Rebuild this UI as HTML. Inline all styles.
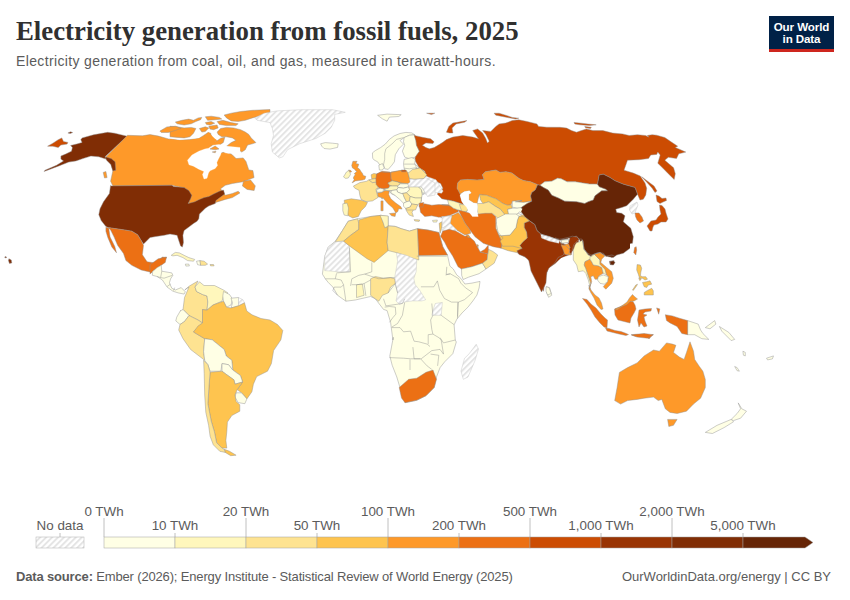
<!DOCTYPE html>
<html><head><meta charset="utf-8">
<style>
html,body{margin:0;padding:0;background:#fff;}
body{width:850px;height:600px;position:relative;overflow:hidden;font-family:"Liberation Sans",sans-serif;}
.t{position:absolute;left:16px;top:15.2px;font-family:"Liberation Serif",serif;font-weight:bold;font-size:26.8px;line-height:32px;color:#303030;white-space:nowrap;letter-spacing:0px;}
.s{position:absolute;left:16px;top:53.3px;font-size:14px;line-height:17px;color:#5b5b5b;white-space:nowrap;letter-spacing:0.36px;}
.logo{position:absolute;left:769px;top:16px;width:65px;height:36px;background:#002147;}
.logo .r{position:absolute;left:0;bottom:0;width:65px;height:3px;background:#ce261e;}
.logo .tx{position:absolute;left:0;top:4.6px;width:65px;text-align:center;color:#fff;font-size:11.6px;line-height:12.2px;font-weight:bold;letter-spacing:-0.1px;}
.f{position:absolute;left:16px;top:569px;font-size:13px;color:#5b5b5b;white-space:nowrap;letter-spacing:-0.16px;}
.f b{color:#5b5b5b;}
.fr{position:absolute;right:19px;top:569px;font-size:13px;color:#5b5b5b;white-space:nowrap;}
svg{position:absolute;left:0;top:0;}
svg text{font-family:"Liberation Sans",sans-serif;font-size:13.4px;fill:#5b5b5b;}
</style></head><body>
<div class="t">Electricity generation from fossil fuels, 2025</div>
<div class="s">Electricity generation from coal, oil, and gas, measured in terawatt-hours.</div>
<div class="logo"><div class="tx">Our World<br>in Data</div><div class="r"></div></div>
<svg width="850" height="600" viewBox="0 0 850 600">
<defs><pattern id="hatch" patternUnits="userSpaceOnUse" width="4.2" height="4.2" patternTransform="rotate(45)"><rect width="4.2" height="4.2" fill="#fff"/><line x1="1" y1="0" x2="1" y2="4.2" stroke="#e2e2e2" stroke-width="1.8"/></pattern></defs>
<g stroke="#8f8f8f" stroke-width="0.45" stroke-linejoin="round">
<path d="M82.1,137.9L93.5,134.8L107.6,132.3L114.7,133.2L127.1,136.2L105.0,156.8L110.3,159.6L113.3,163.5L112.9,169.7L110.8,161.8L105.9,159.1L98.8,156.8L90.9,156.1L82.9,158.6L75.9,160.9L68.8,162.1L58.2,166.2L44.1,171.5L45.0,170.2L56.5,165.3L63.5,160.9L60.9,159.1L60.9,156.1L66.2,153.8L71.5,151.2L72.4,147.6L70.6,145.5L77.6,143.8L82.1,142.4L80.8,139.7Z" fill="#802d05"/>
<path d="M67.9,133.0L70.6,131.8L72.7,132.6L70.2,133.5Z" fill="#802d05"/>
<path d="M47.6,146.2L52.9,143.2L58.2,139.7L61.8,137.9L63.5,141.5L67.9,142.4L67.1,144.1L60.9,145.0L58.2,147.6L52.9,146.2Z" fill="#cc4c02"/>
<path d="M127.5,135.3L142.4,135.8L150.0,134.6L158.5,136.1L168.4,138.9L179.6,140.3L189.5,139.6L198.7,138.6L203.6,135.4L207.9,132.5L210.7,133.2L212.1,138.9L214.2,141.7L217.8,140.3L220.6,138.2L224.8,137.2L223.4,142.4L219.2,145.2L213.5,146.6L210.7,148.1L220.6,153.0L226.2,151.6L231.9,154.4L236.1,158.6L243.2,157.9L246.0,161.5L248.8,169.9L252.9,170.6L254.1,177.6L242.9,181.8L232.4,183.5L225.3,185.3L220.6,188.8L225.3,195.3L232.4,193.5L238.2,191.2L240.0,192.9L232.4,197.6L225.3,199.4L215.9,202.4L204.1,198.8L194.7,202.9L188.2,204.1L191.2,195.3L185.3,188.2L171.8,185.3L112.9,185.9L110.6,181.2L112.9,170.6L110.6,162.4L104.9,157.9Z" fill="#fe9929"/>
<path d="M105.0,156.8L111.2,158.6L115.1,161.8L115.8,170.2L112.9,170.9L110.8,164.4L106.8,160.4Z" fill="#802d05"/>
<path d="M103.2,172.4L105.9,171.5L107.1,177.6L104.5,178.0Z" fill="#fe9929"/>
<path d="M243.5,181.2L250.6,180.0L255.3,185.9L254.1,190.6L247.1,189.4L242.4,185.9Z" fill="#fe9929"/>
<path d="M209.3,145.9L216.4,145.2L219.9,148.8L214.9,150.2L210.7,149.5Z" fill="#fe9929"/>
<path d="M170.0,139.1L179.4,140.3L188.8,140.3L198.2,138.5L205.3,136.2L208.8,132.1L210.6,134.4L214.7,138.5L217.1,140.3L212.4,143.8L210.0,146.2L214.7,147.4L219.4,150.9L221.8,155.0L170.0,155.0Z" fill="#fe9929" stroke="none"/>
<path d="M224.1,115.0L231.2,113.2L240.6,111.5L252.4,110.3L270.0,109.5L270.0,112.6L261.8,115.6L252.4,117.9L245.3,120.3L238.2,121.5L231.2,120.9L226.5,117.9Z" fill="#fe9929"/>
<path d="M217.1,121.5L222.9,120.3L231.2,122.6L238.2,123.8L235.9,125.6L226.5,125.6L219.4,124.4Z" fill="#fe9929"/>
<path d="M217.1,132.1L220.6,128.5L226.5,127.4L233.5,127.9L240.6,129.7L245.3,132.1L248.8,134.4L251.2,137.9L255.9,142.6L252.4,143.8L247.6,145.0L245.3,149.7L241.8,152.1L238.2,149.7L233.5,148.5L226.5,146.2L231.2,142.6L235.9,140.3L232.4,137.9L226.5,136.8L221.8,136.8L218.2,134.4Z" fill="#fe9929"/>
<path d="M199.4,128.5L205.3,126.8L208.8,127.9L205.3,131.5L201.8,132.1Z" fill="#fe9929"/>
<path d="M208.8,126.2L217.1,125.0L218.2,127.9L213.5,129.7L210.0,129.1Z" fill="#fe9929"/>
<path d="M170.0,126.2L177.1,126.8L184.1,127.9L191.2,127.4L195.9,128.5L193.5,133.2L190.0,136.8L184.1,137.9L177.1,137.4L170.0,136.8Z" fill="#fe9929"/>
<path d="M175.3,122.1L181.8,120.3L188.8,119.1L193.5,120.3L198.2,117.9L201.8,117.4L200.6,119.7L195.9,121.5L191.2,123.8L184.1,125.0L177.1,123.8Z" fill="#fe9929"/>
<path d="M205.3,116.8L211.2,116.2L219.4,117.4L221.8,119.1L215.9,119.7L207.6,120.3Z" fill="#fe9929"/>
<path d="M205.3,122.6L211.2,121.5L214.7,123.2L210.0,125.0L206.5,124.4Z" fill="#fe9929"/>
<path d="M159.9,131.1L166.9,126.9L175.4,126.2L181.1,128.3L175.4,130.4L168.4,132.5L161.3,132.5Z" fill="#fe9929"/>
<path d="M187.5,160.2L192.0,155.0L198.8,151.2L204.8,149.0L208.5,148.2L213.0,145.2L219.0,144.5L225.0,146.0L232.5,146.8L240.0,147.5L240.0,152.0L232.5,152.8L228.8,153.5L225.0,152.8L222.0,150.5L220.5,155.0L218.2,159.5L216.8,162.5L217.5,165.5L215.2,168.5L210.0,170.8L208.5,173.0L207.0,178.2L204.0,179.0L202.5,174.5L204.0,171.5L198.8,169.2L193.5,166.2L189.0,164.8Z" fill="#fff" stroke="#fff" stroke-width="0.3"/>
<path d="M210.0,149.0L215.2,146.0L219.0,149.0L215.2,149.8Z" fill="#fe9929"/>
<path d="M212.2,152.0L216.0,151.2L215.2,152.8Z" fill="#fe9929"/>
<path d="M110.6,185.9L171.8,185.3L173.5,186.5L184.1,187.6L188.8,190.6L191.8,195.3L190.6,198.8L188.2,203.5L194.7,201.8L199.4,199.4L204.1,197.6L208.8,196.5L213.5,194.1L219.4,191.2L223.5,190.0L224.7,194.1L220.6,197.1L215.9,200.6L215.3,203.5L208.8,205.9L205.3,208.2L201.8,211.8L199.4,214.1L198.8,218.8L197.1,221.2L193.5,223.5L188.8,227.1L184.1,230.6L182.9,235.3L183.5,242.4L182.4,247.1L180.6,245.9L178.2,238.8L177.1,235.3L170.0,234.1L164.1,235.3L155.9,236.5L150.0,237.6L143.5,244.1L141.2,240.6L137.6,234.7L131.8,231.2L124.7,230.0L108.2,227.6L105.9,226.5L101.2,220.6L98.8,214.7L100.0,208.8L103.5,201.8L109.4,193.5L110.6,185.3Z" fill="#802d05"/>
<path d="M108.2,227.6L124.7,230.0L131.8,231.2L137.6,234.7L141.2,240.6L143.5,245.3L142.4,254.7L147.1,261.8L155.3,262.9L162.4,257.1L166.6,257.3L162.4,264.1L152.9,267.6L151.8,272.4L141.2,270.0L131.8,265.3L125.9,260.6L123.5,253.5L117.6,245.3L114.1,237.1L110.6,230.0Z" fill="#ec7014"/>
<path d="M105.9,227.2L108.7,228.1L110.1,237.1L114.8,246.5L116.5,252.8L111.8,246.9L107.8,237.5L105.9,231.2Z" fill="#ec7014"/>
<path d="M8.9,258.7L11.3,260.1L11.8,262.9L9.4,263.4L8.5,260.6Z" fill="#802d05"/>
<path d="M5.2,256.4L6.6,257.1L6.1,258.0L4.7,257.5Z" fill="#802d05"/>
<path d="M150.0,264.7L158.2,258.8L166.5,257.1L165.3,262.4L161.2,265.3L158.2,268.2L153.5,270.6L150.0,274.1Z" fill="#ec7014"/>
<path d="M152.4,271.8L157.1,267.6L161.2,265.3L161.8,271.2L171.8,272.9L172.9,275.3L170.6,278.8L169.4,282.9L171.8,288.2L175.3,290.0L181.2,287.6L185.3,291.8L184.1,294.1L178.2,292.9L172.9,291.2L167.1,287.1L162.4,280.0L157.1,276.5L152.4,275.3Z" fill="#ffffe5"/>
<path d="M171.2,255.3L175.3,252.4L179.4,252.9L184.1,255.3L188.8,257.6L194.7,259.4L193.5,261.2L187.6,260.6L182.9,257.6L177.1,255.3L172.9,255.9Z" fill="#fff7bc"/>
<path d="M196.5,261.2L200.0,260.6L200.6,265.3L197.6,264.7Z" fill="#ffffe5"/>
<path d="M200.0,260.6L204.1,261.2L207.6,264.1L205.3,265.3L200.6,265.3Z" fill="#fee391"/>
<path d="M210.0,264.5L213.5,264.5L214.1,265.9L210.6,265.9Z" fill="#fee391"/>
<path d="M185.3,264.1L188.8,264.1L189.4,265.9L185.9,266.1Z" fill="#ffffe5"/>
<path d="M198.0,281.0L195.0,287.0L196.5,291.5L202.5,294.5L207.0,296.0L207.8,302.0L207.0,310.2L202.5,309.5L202.5,323.0L198.0,320.0L189.0,315.5L183.0,309.5L184.5,297.5L189.0,287.0L184.8,289.9L189.3,286.1L196.5,281.8Z" fill="#fee391"/>
<path d="M195.0,287.0L199.5,281.8L204.0,285.5L214.5,285.5L223.5,290.0L228.0,293.0L223.5,296.0L222.0,301.2L213.0,305.0L207.0,310.2L207.8,302.0L207.0,296.0L202.5,294.5L196.5,291.5Z" fill="#fff7bc"/>
<path d="M223.5,291.5L229.5,294.5L232.5,299.0L231.0,305.0L226.5,307.2L223.5,301.2L222.8,296.0Z" fill="#ffffe5"/>
<path d="M231.0,298.2L238.5,297.5L238.5,305.8L231.0,308.0L232.5,302.8Z" fill="#ffffe5"/>
<path d="M238.5,297.5L243.0,299.8L244.5,302.8L238.5,305.8Z" fill="url(#hatch)" stroke="#c4c4c4" stroke-width="0.45"/>
<path d="M180.0,311.0L183.0,309.5L189.0,315.5L184.5,321.5L180.0,324.5L175.8,320.9L176.7,317.2L180.5,310.6Z" fill="#ffffe5"/>
<path d="M180.0,324.5L184.5,321.5L189.0,315.5L198.0,320.0L202.5,323.0L193.5,332.0L204.7,338.7L203.6,351.7L204.7,360.3L190.6,349.5L183.0,338.7L178.7,330.0Z" fill="#fee391"/>
<path d="M193.5,332.0L198.0,326.0L202.5,323.0L202.5,309.5L207.0,310.2L213.0,305.0L219.0,302.8L223.5,301.2L226.5,307.2L231.0,308.0L238.5,305.8L244.5,302.8L246.8,311.0L252.0,314.8L261.0,318.5L270.0,320.0L277.5,324.5L282.8,330.5L280.9,339.8L273.6,350.6L271.4,363.6L267.5,371.2L256.7,376.6L253.4,384.2L251.9,391.8L246.9,398.9L241.5,392.8L237.2,389.6L242.6,382.0L240.4,375.5L232.8,370.1L231.8,360.3L226.3,356.0L224.2,349.5L212.2,339.8L204.7,338.7Z" fill="#fec44f"/>
<path d="M204.7,338.7L212.2,339.8L224.2,349.5L226.3,356.0L231.8,360.3L232.8,370.1L228.5,364.7L222.0,363.6L220.9,371.2L210.1,371.2L207.9,364.7L204.7,360.3L203.6,351.7Z" fill="#ffffe5"/>
<path d="M222.0,363.6L228.5,364.7L232.8,370.1L240.4,375.5L242.6,382.0L235.0,384.2L233.9,379.8L226.3,374.4L222.0,371.2Z" fill="#ffffe5"/>
<path d="M236.1,392.8L241.5,392.8L246.9,398.9L244.8,403.7L238.2,402.6L235.0,397.2Z" fill="#ffffe5"/>
<path d="M210.1,372.2L222.0,371.2L226.3,374.4L233.9,379.8L235.0,384.2L242.6,382.0L237.2,389.6L235.0,395.0L236.1,401.5L239.8,404.8L239.8,411.2L231.8,415.6L227.4,422.1L226.8,431.8L225.9,440.5L226.8,448.1L222.0,448.1L216.6,442.7L214.4,431.8L211.2,421.0L207.9,403.7L209.0,386.3Z" fill="#fec44f"/>
<path d="M224.2,449.2L229.6,451.3L236.1,455.2L230.7,455.7L225.2,452.4Z" fill="#fec44f"/>
<path d="M203.6,360.3L207.9,364.7L210.1,372.2L209.0,386.3L207.9,403.7L211.2,421.0L214.4,431.8L216.6,442.7L222.0,448.1L224.2,449.2L225.2,452.4L219.8,451.3L213.3,444.8L210.1,436.2L208.6,425.3L205.8,412.3L204.7,395.0L204.2,373.3Z" fill="#fee391"/>
<path d="M161.8,271.2L160.6,277.6" fill="none"/>
<path d="M164.1,278.2L172.4,275.3" fill="none"/>
<path d="M167.1,286.5L170.6,284.1" fill="none"/>
<path d="M173.5,290.6L174.7,287.6" fill="none"/>
<path d="M157.1,276.5L160.6,277.6L164.1,278.2" fill="none"/>
<path d="M254.7,117.9L264.1,113.2L277.1,110.9L300.6,109.7L332.4,109.7L345.3,112.3L334.7,114.4L334.7,120.3L331.2,127.4L325.3,133.2L315.9,138.5L299.4,143.8L287.6,149.7L282.9,156.8L279.4,157.9L272.4,152.1L271.2,143.8L273.5,135.6L272.4,128.5L270.0,122.6L257.1,120.3Z" fill="url(#hatch)" stroke="#c4c4c4" stroke-width="0.45"/>
<path d="M320.6,143.8L325.3,142.6L332.4,143.2L338.2,143.8L337.6,147.4L330.0,149.1L324.1,148.5L321.8,146.2Z" fill="#ffffe5"/>
<path d="M377.6,115.3L387.1,114.1L401.2,114.7L398.8,116.5L389.4,117.1L387.1,121.2L382.4,118.8Z" fill="#ffffe5"/>
<path d="M372.7,158.2L372.4,152.9L375.3,150.6L380.6,147.6L385.3,144.1L389.4,139.4L394.1,135.9L400.0,133.5L405.9,132.4L411.8,132.9L414.7,134.7L409.4,135.3L404.1,137.6L400.0,140.6L403.5,144.1L398.8,148.8L395.3,154.7L394.4,161.8L391.8,165.3L388.2,169.4L384.7,168.8L383.5,164.7L380.0,165.3L377.6,161.8L374.1,160.0Z" fill="#ffffe5"/>
<path d="M404.1,137.6L409.4,135.3L414.7,134.7L415.9,140.6L416.5,145.3L419.4,151.2L415.3,157.1L409.4,158.8L404.7,157.1L402.4,151.2L404.7,145.3L403.5,141.8Z" fill="#ffffe5"/>
<path d="M378.8,165.3L382.4,163.5L384.1,167.6L382.4,170.0L379.4,170.0Z" fill="#ffffe5"/>
<path d="M414.8,160.0L415.3,157.1L419.4,151.2L416.5,145.3L415.9,140.6L414.1,135.3L416.5,135.9L422.4,137.3L430.6,138.8L434.1,141.8L432.9,143.5L425.9,142.9L422.4,145.3L425.9,147.6L429.4,148.8L434.1,147.6L440.0,144.1L443.1,142.1L446.4,139.6L452.9,137.1L462.8,135.5L472.7,137.1L478.5,138.8L474.4,133.0L472.7,130.5L477.6,128.9L482.6,133.0L485.9,138.8L487.5,142.9L489.2,141.2L485.9,134.6L482.6,130.5L490.8,131.4L495.8,126.4L499.1,123.9L505.6,123.1L512.2,120.6L518.8,119.8L527.1,121.5L536.9,123.9L538.6,126.4L546.8,127.2L560.0,127.3L566.6,128.1L571.5,130.6L576.5,132.2L581.4,130.6L586.4,128.9L592.9,130.6L602.8,130.6L612.7,133.1L622.6,133.9L629.2,135.5L637.4,134.7L645.6,135.5L648.9,137.2L647.3,135.5L652.2,134.7L656.7,135.2L664.8,137.5L670.7,141.6L677.7,146.2L675.3,147.4L685.8,152.1L678.8,153.8L676.5,158.5L668.3,157.3L664.8,160.2L669.5,164.3L673.6,167.8L675.3,173.7L674.2,179.5L668.3,173.7L662.5,167.8L657.8,163.2L660.2,155.0L657.8,152.1L656.7,154.4L650.8,155.0L648.5,158.5L639.2,159.7L627.5,160.2L624.0,170.2L633.3,173.1L640.3,176.0L645.0,183.0L646.7,188.3L645.8,195.0L643.3,199.2L640.0,200.0L637.5,194.2L635.0,187.5L623.3,184.2L615.0,180.8L610.0,177.5L603.3,174.2L599.2,175.0L597.5,184.2L594.1,184.1L589.4,184.1L582.4,182.9L575.3,181.8L567.1,181.8L561.2,178.8L557.6,178.2L551.8,181.2L544.7,181.8L540.0,185.3L537.6,184.7L530.6,181.8L523.5,180.6L518.8,178.2L511.8,172.9L505.9,171.8L500.0,172.4L495.9,170.0L485.3,171.8L482.4,174.7L484.1,179.4L477.1,180.0L467.6,179.4L460.6,180.0L457.6,182.9L457.1,188.2L460.0,192.9L461.8,201.2L464.1,204.7L453.5,201.2L447.6,200.0L441.8,198.8L437.1,194.1L442.9,188.2L440.6,183.5L430.0,178.8L426.1,176.2L424.7,171.3L419.1,167.8Z" fill="#cc4c02"/>
<path d="M446.4,132.2L448.8,126.4L452.9,123.1L466.9,120.6L464.5,122.3L456.2,123.9L452.1,128.1L452.9,133.0L449.6,133.0Z" fill="#cc4c02"/>
<path d="M494.1,113.2L499.1,113.2L507.3,115.7L512.2,117.4L518.8,118.2L515.5,119.0L508.9,117.8L502.4,116.5L495.8,115.2Z" fill="#cc4c02"/>
<path d="M426.6,113.2L434.8,113.2L431.5,114.6Z" fill="#cc4c02"/>
<path d="M574.0,122.4L581.4,123.2L588.0,124.0L596.2,124.8L589.6,125.6L579.8,124.8L574.8,124.0Z" fill="#cc4c02"/>
<path d="M584.7,126.5L591.3,127.3L590.5,128.4L585.5,127.8Z" fill="#cc4c02"/>
<path d="M646.0,180.0L650.0,183.0L654.0,186.0L657.0,191.0L655.0,192.5L652.0,188.0L647.5,183.0L641.7,176.7Z" fill="#cc4c02"/>
<path d="M352.9,161.3L357.1,161.3L355.8,163.4L358.8,164.2L357.9,166.8L357.5,167.6L359.6,169.2L360.8,171.3L362.5,173.4L363.3,175.5L365.8,176.3L365.0,179.2L362.5,180.1L358.8,180.5L355.4,180.9L353.3,182.2L352.1,182.8L354.2,179.7L353.3,178.0L354.2,175.9L355.4,174.7L354.2,173.8L355.8,172.2L356.7,171.3L355.4,170.5L354.6,169.2L352.5,168.0L351.7,165.5Z" fill="#fe9929"/>
<path d="M349.2,170.1L350.8,170.5L351.7,171.8L350.0,172.2L349.0,171.3Z" fill="#fe9929"/>
<path d="M343.5,176.9L346.4,172.0L348.5,170.7L348.3,170.1L349.2,170.1L349.0,171.3L350.0,172.2L350.4,174.7L348.3,178.0L345.6,178.4Z" fill="#fff7bc"/>
<path d="M353.4,186.1L359.8,182.6L366.8,181.2L368.9,179.8L372.5,182.6L377.0,181.9L378.1,188.2L376.4,191.8L378.1,197.4L372.5,200.9L366.1,201.6L361.2,199.5L359.8,195.3L359.1,190.4L354.8,188.2Z" fill="#fee391"/>
<path d="M381.6,195.3L383.1,195.3L382.8,198.8L381.6,198.8Z" fill="#fee391"/>
<path d="M344.2,200.2L351.3,198.8L361.2,200.2L367.5,202.4L365.4,206.6L361.2,210.8L358.4,216.5L352.7,217.9L348.5,215.8L347.1,212.2L344.9,208.0Z" fill="#fec44f"/>
<path d="M342.8,203.8L347.1,203.1L348.5,208.0L347.8,215.8L344.2,215.1L342.8,210.8Z" fill="#fff7bc"/>
<path d="M371.1,174.8L373.9,173.4L377.0,174.1L376.4,178.4L371.8,179.1Z" fill="#fec44f"/>
<path d="M368.9,179.8L376.4,178.4L377.0,181.9L372.5,182.6Z" fill="#fee391"/>
<path d="M376.7,174.1L382.4,171.3L390.1,172.0L391.5,176.9L392.2,180.5L388.0,181.9L389.4,185.4L388.7,187.5L381.6,188.2L378.8,187.5L377.4,182.6L376.4,178.4Z" fill="#ec7014"/>
<path d="M390.8,172.0L400.7,170.6L406.4,171.3L409.2,175.5L410.6,181.2L406.4,183.3L402.1,183.3L397.9,181.9L392.2,180.5Z" fill="#fe9929"/>
<path d="M388.0,181.9L392.2,180.5L397.9,181.9L402.1,183.3L400.0,185.4L393.6,186.1L389.4,185.4Z" fill="#fee391"/>
<path d="M382.4,188.2L388.7,187.5L393.6,186.1L400.0,185.4L400.7,188.9L395.8,190.4L386.6,190.4Z" fill="#ffffe5"/>
<path d="M376.0,188.9L382.4,188.2L385.2,190.4L380.9,192.5L376.4,191.8Z" fill="#ffffe5"/>
<path d="M400.0,185.4L402.1,183.3L406.4,183.3L409.2,184.7L406.4,187.5L400.7,187.5Z" fill="#fff7bc"/>
<path d="M395.8,191.1L396.5,188.2L400.7,187.5L406.4,187.5L409.2,188.9L405.6,193.3L399.3,193.2Z" fill="#fff7bc"/>
<path d="M406.4,188.2L409.2,188.9L412.0,187.5L418.4,186.8L421.9,191.1L421.2,197.4L414.8,197.4L409.2,196.0L405.6,193.3Z" fill="#fff7bc"/>
<path d="M419.1,186.8L423.3,189.6L424.7,193.9L421.9,191.8Z" fill="#ffffe5"/>
<path d="M377.4,192.8L380.9,192.5L385.2,190.4L389.4,191.1L388.7,194.6L390.8,198.8L395.8,203.1L400.7,206.6L402.1,209.1L398.6,208.7L397.9,211.5L395.8,212.9L392.9,208.0L388.0,203.8L383.1,198.1L378.1,196.7Z" fill="#fe9929"/>
<path d="M389.4,213.6L395.8,212.9L395.1,216.5L391.5,215.8Z" fill="#fe9929"/>
<path d="M380.9,200.9L383.1,200.9L383.1,210.8L380.9,210.8Z" fill="#fe9929"/>
<path d="M389.4,191.3L395.8,191.1L399.3,193.2L405.6,193.3L409.2,196.0L414.8,197.8L421.2,197.4L421.2,200.9L416.2,203.8L412.0,205.2L406.4,205.9L404.9,202.4L400.7,199.5L396.5,196.0L391.5,193.9Z" fill="#ffffe5"/>
<path d="M410.6,198.1L421.2,197.4L421.2,201.6L416.9,203.8L411.3,202.4Z" fill="#fff7bc"/>
<path d="M404.9,205.9L410.6,205.2L416.9,204.0L414.8,208.0L412.0,212.2L413.4,216.5L409.2,215.1L406.4,210.8L405.6,208.0Z" fill="#fee391"/>
<path d="M414.1,219.6L419.8,220.0L419.1,221.4L414.8,221.0Z" fill="#fee391"/>
<path d="M410.6,169.9L419.1,167.8L424.7,171.3L426.1,176.2L421.9,177.6L414.8,178.4L409.9,176.2Z" fill="#fee391"/>
<path d="M406.4,164.2L413.4,162.8L418.4,167.1L419.1,167.8L410.6,169.9L407.8,170.6L404.9,167.8Z" fill="#ffffe5"/>
<path d="M404.1,159.4L411.8,157.6L415.3,159.4L414.7,164.1L416.5,167.6L414.1,171.2L410.6,173.5L405.3,172.4L404.1,168.2L403.5,164.1Z" fill="#ffffe5"/>
<path d="M401.2,170.6L405.3,170.6L405.3,172.4L401.8,172.4Z" fill="#cc4c02"/>
<path d="M409.9,176.2L414.8,178.4L421.9,177.6L426.1,176.2L436.0,179.8L443.1,191.1L441.6,193.2L436.0,192.5L430.4,195.3L424.7,193.9L423.3,189.6L419.1,186.8L418.4,186.8L412.0,187.5L409.2,184.7L406.4,183.3L410.6,181.2Z" fill="url(#hatch)" stroke="#c4c4c4" stroke-width="0.45"/>
<path d="M419.1,205.2L424.7,203.8L431.8,205.2L438.8,204.5L450.1,205.2L458.6,207.3L441.8,204.7L448.8,204.7L453.5,208.2L458.2,210.0L458.2,211.8L450.0,215.3L440.6,217.6L452.9,215.8L444.5,216.5L438.8,217.2L431.8,215.8L424.7,216.5L420.5,212.2L419.8,208.0Z" fill="#ec7014"/>
<path d="M432.5,220.4L437.4,220.0L436.7,222.1L433.2,222.1Z" fill="#fff7bc"/>
<path d="M447.6,200.0L453.5,201.2L464.1,204.7L468.8,207.1L466.5,211.8L461.8,211.8L458.2,210.0L453.5,208.2L448.8,204.7Z" fill="#fff7bc"/>
<path d="M459.4,204.5L464.1,204.7L468.8,207.1L466.5,211.8L461.8,211.8Z" fill="#fee391"/>
<path d="M457.6,182.9L460.6,180.0L467.6,179.4L477.1,180.0L484.1,179.4L482.4,174.7L485.3,171.8L495.9,170.0L500.0,172.4L505.9,171.8L511.8,172.9L518.8,178.2L523.5,180.6L530.6,181.8L537.6,184.7L535.3,190.0L531.8,192.4L530.6,195.9L531.8,201.2L523.5,202.4L515.3,201.8L521.8,200.6L512.4,201.2L511.2,204.7L507.6,205.3L502.9,203.5L495.9,198.8L486.5,195.3L479.4,194.7L478.2,198.8L477.1,203.5L473.5,202.9L468.8,200.0L468.8,194.1L471.2,192.9L469.4,190.8L464.1,191.8L460.0,194.1L457.1,188.2Z" fill="#fe9929"/>
<path d="M479.4,194.7L486.5,195.3L495.9,198.8L502.9,203.5L507.6,205.3L511.2,204.7L512.4,208.2L507.6,209.4L508.8,215.3L505.3,215.3L500.6,209.4L494.7,205.9L488.8,201.8L482.9,203.5L480.6,200.0Z" fill="#fec44f"/>
<path d="M477.1,203.5L482.9,203.5L488.8,201.8L494.7,205.9L500.6,209.4L505.3,215.3L502.9,217.6L498.2,218.8L493.5,214.1L485.3,214.1L480.6,216.5L477.6,212.9Z" fill="#fee391"/>
<path d="M512.4,201.2L521.8,200.6L515.3,201.8L523.5,202.4L531.8,201.2L527.1,203.5L521.2,207.6L523.5,210.6L522.9,208.2L517.1,208.2L512.4,207.1Z" fill="#ffffe5"/>
<path d="M507.6,209.4L512.4,208.2L517.1,208.2L521.2,207.6L523.5,210.6L525.9,215.9L519.4,211.8L517.1,214.7L508.8,215.3Z" fill="#ffffe5"/>
<path d="M540.0,185.3L544.7,181.8L551.8,181.2L557.6,178.2L561.2,178.8L567.1,181.8L575.3,181.8L582.4,182.9L589.4,184.1L594.1,184.1L597.5,184.2L599.2,186.7L605.8,189.2L607.5,190.8L601.7,190.8L595.0,195.8L593.3,200.0L588.3,201.7L584.7,203.5L576.5,201.8L564.7,201.2L558.8,198.2L551.8,195.3L548.2,190.0L543.5,187.6Z" fill="#ffffe5"/>
<path d="M656.0,195.0L659.0,196.0L662.0,198.5L666.0,198.0L666.5,200.5L663.0,202.0L660.0,203.5L657.0,201.5Z" fill="#cc4c02"/>
<path d="M659.5,205.0L662.0,205.5L665.0,209.0L666.0,213.0L668.0,219.0L666.0,222.0L661.0,222.0L658.0,224.0L654.0,225.0L653.0,227.0L652.0,231.0L650.0,231.0L647.0,226.0L651.0,221.0L656.0,220.0L658.0,217.0L661.0,214.0L660.0,210.0Z" fill="#cc4c02"/>
<path d="M630.0,206.0L637.0,202.0L638.0,205.0L636.0,210.0L635.0,213.0L632.0,214.0L629.5,210.0Z" fill="url(#hatch)" stroke="#c4c4c4" stroke-width="0.45"/>
<path d="M635.0,213.0L639.0,213.0L642.0,217.0L643.5,221.0L640.0,223.0L637.0,220.0L635.5,216.5Z" fill="#ec7014"/>
<path d="M376.5,174.0L381.0,171.8L384.8,172.5L390.8,172.5L391.1,178.5L392.2,181.5L387.8,183.0L390.0,186.0L388.5,188.2L381.8,189.0L378.8,187.5L376.1,184.5L375.8,178.5Z" fill="#ec7014"/>
<path d="M390.8,172.5L397.5,171.0L402.0,170.2L406.5,170.6L408.0,173.2L409.5,178.5L410.2,182.2L408.0,183.8L402.0,183.0L397.5,181.9L392.2,180.8L391.1,178.5Z" fill="#fe9929"/>
<path d="M387.8,183.0L392.2,180.8L397.5,181.9L400.5,183.8L397.5,186.0L392.2,186.0L389.6,185.2Z" fill="#fee391"/>
<path d="M384.8,189.0L388.5,188.2L390.0,186.0L392.2,186.0L397.5,186.0L398.2,187.5L396.8,189.8L391.5,190.5L385.5,190.5Z" fill="#fff7bc"/>
<path d="M376.5,189.8L380.2,188.2L384.0,189.0L382.5,192.0L377.2,192.4Z" fill="#ffffe5"/>
<path d="M397.5,186.0L400.5,183.8L408.0,183.8L408.8,186.8L403.5,188.2L398.2,187.5Z" fill="#ffffe5"/>
<path d="M396.8,189.8L398.2,187.5L403.5,188.2L408.8,186.8L409.5,189.8L406.5,192.8L401.2,193.5L397.5,192.0Z" fill="#ffffe5"/>
<path d="M408.8,186.8L418.5,186.8L421.5,189.8L422.2,195.0L421.5,198.0L415.5,198.0L410.2,196.5L406.5,192.8L409.5,189.8Z" fill="#fff7bc"/>
<path d="M418.5,186.8L421.5,186.8L424.5,191.2L423.0,195.0L421.5,189.8Z" fill="#ffffe5"/>
<path d="M391.5,190.5L396.8,189.8L397.5,192.0L401.2,193.5L402.8,193.5L404.2,197.2L406.5,201.8L403.5,203.2L399.8,199.5L394.5,195.0L390.8,192.8Z" fill="#ffffe5"/>
<path d="M402.8,193.5L406.5,192.8L410.2,196.5L409.5,201.0L406.5,201.8L404.2,197.2Z" fill="#fee391"/>
<path d="M410.2,196.5L415.5,198.0L421.5,198.0L420.8,202.5L417.8,204.8L411.8,204.0L409.5,201.0Z" fill="#fff7bc"/>
<path d="M403.5,203.2L406.5,201.8L409.5,201.0L411.8,204.0L410.2,207.0L405.8,208.5L403.5,206.2Z" fill="#ffffe5"/>
<path d="M405.8,208.5L410.2,207.0L411.8,204.0L417.8,204.8L415.5,210.0L406.5,210.0Z" fill="#fee391"/>
<path d="M419.2,203.2L423.8,202.5L423.0,207.0L419.2,207.0Z" fill="#ec7014"/>
<path d="M409.5,178.5L414.0,179.2L426.0,177.8L435.0,183.0L435.0,195.0L427.5,196.5L424.5,191.2L421.5,186.8L418.5,186.8L408.8,186.8L408.0,183.8L410.2,182.2Z" fill="url(#hatch)" stroke="#c4c4c4" stroke-width="0.45"/>
<path d="M408.0,173.2L412.5,169.5L420.0,168.0L426.8,174.8L423.8,178.5L414.0,179.2L409.5,178.5Z" fill="#fee391"/>
<path d="M401.2,170.2L405.8,169.9L406.1,171.8L401.6,171.8Z" fill="#cc4c02"/>
<path d="M403.5,137.6L396.5,139.4L391.8,144.1L385.9,148.8L384.7,153.5L384.7,159.4L383.5,164.7" fill="none"/>
<path d="M404.1,164.1L414.7,164.1" fill="none"/>
<path d="M404.1,168.2L409.4,168.8L416.5,167.6" fill="none"/>
<path d="M357.6,218.8L370.6,216.5L381.2,215.3L388.2,216.5L388.2,225.9L395.3,226.4L401.2,228.7L409.4,231.1L417.6,228.7L428.2,230.1L438.8,232.5L442.8,246.8L447.5,255.1L449.9,266.1L453.2,268.9L456.7,274.8L460.9,278.4L464.9,284.0L472.0,283.1L480.0,281.4L479.1,288.0L476.9,295.1L472.9,300.9L468.0,307.1L462.1,312.9L456.9,319.1L454.1,324.9L455.3,340.0L456.3,342.0L452.8,353.7L444.7,361.8L440.0,367.7L436.5,377.0L434.2,387.5L426.0,395.7L416.7,400.3L405.0,402.7L400.3,388.7L396.8,377.0L392.2,365.3L389.8,356.0L393.3,337.3L392.9,340.0L390.6,322.4L387.1,310.6L383.5,309.4L375.3,298.8L370.6,296.5L355.3,300.0L345.9,301.2L337.6,295.3L332.9,287.1L328.2,282.4L325.3,278.8L322.4,274.1L324.7,256.5L328.2,247.1L335.3,241.2L342.4,230.6L348.2,221.2Z" fill="#ffffe5"/>
<path d="M357.6,218.8L348.2,221.2L342.4,230.6L335.3,241.9L343.5,241.2L350.6,235.3L358.8,229.4L358.8,223.5Z" fill="#fee391"/>
<path d="M335.3,241.9L343.5,241.2L349.4,245.9L349.4,271.8L338.8,271.8L324.7,270.6L324.7,256.5L328.2,247.1Z" fill="url(#hatch)" stroke="#c4c4c4" stroke-width="0.45"/>
<path d="M358.8,220.0L370.6,216.5L381.2,215.3L383.5,223.5L385.9,227.8L388.2,225.9L387.1,242.4L388.2,250.6L374.1,262.4L367.1,258.8L349.4,245.9L343.5,241.2L350.6,235.3L358.8,229.4Z" fill="#fec44f"/>
<path d="M380.0,215.3L388.2,216.0L388.2,225.9L384.7,227.8L383.1,222.4Z" fill="#fff7bc"/>
<path d="M388.2,225.9L395.3,226.4L401.2,228.7L409.4,231.1L417.6,228.7L418.8,260.0L414.1,258.8L397.6,252.9L388.2,250.6L387.1,242.4Z" fill="#fee391"/>
<path d="M417.6,228.7L428.2,230.1L438.8,232.5L442.8,246.8L447.5,255.1L418.8,255.5Z" fill="#ec7014"/>
<path d="M396.5,252.9L405.6,255.0L416.8,259.7L416.2,271.5L413.8,278.5L415.0,284.4L419.7,290.3L425.6,299.7L422.0,300.9L412.6,300.9L404.4,302.0L399.7,304.4L396.0,301.0L397.6,292.9L395.3,284.7L394.7,277.6L397.6,261.2Z" fill="url(#hatch)" stroke="#c4c4c4" stroke-width="0.45"/>
<path d="M370.6,278.8L375.3,276.5L383.5,278.2L390.6,277.6L394.7,278.8L395.3,283.5L390.6,287.1L388.2,292.9L382.4,295.3L378.8,301.2L375.3,298.8L370.6,295.3Z" fill="#fee391"/>
<path d="M356.5,284.7L362.4,284.1L364.1,295.3L360.0,296.5L356.5,297.6Z" fill="#fff7bc"/>
<path d="M435.3,303.5L442.4,302.4L441.2,315.3L431.8,315.3L432.9,310.6Z" fill="url(#hatch)" stroke="#c4c4c4" stroke-width="0.45"/>
<path d="M399.2,387.5L407.3,380.5L408.5,379.3L416.7,378.2L426.0,372.3L433.0,370.0L436.5,379.3L434.2,387.5L426.0,395.7L416.7,400.3L405.0,402.7L401.5,398.0Z" fill="#ec7014"/>
<path d="M476.2,344.3L478.5,349.0L475.0,360.7L468.0,377.0L463.3,379.3L461.0,371.2L464.5,358.3L469.2,353.7Z" fill="url(#hatch)" stroke="#c4c4c4" stroke-width="0.45"/>
<path d="M349.4,247.6L350.6,271.8L336.5,272.9" fill="none"/>
<path d="M371.8,262.4L371.8,271.8L364.7,274.1L358.8,275.3L351.8,278.8L350.6,285.9" fill="none"/>
<path d="M364.7,274.1L371.8,276.5L378.8,278.8L390.6,277.6L394.7,277.6" fill="none"/>
<path d="M351.8,284.7L356.5,284.7L362.4,284.1L364.1,283.5L370.6,280.0" fill="none"/>
<path d="M364.1,283.5L365.9,295.9" fill="none"/>
<path d="M336.5,273.5L335.3,278.8L325.3,278.8" fill="none"/>
<path d="M335.3,278.8L341.2,280.0L343.5,284.7L344.7,292.9L345.9,301.2" fill="none"/>
<path d="M343.5,284.7L341.2,287.1L334.1,287.1L332.9,290.6L337.6,295.3" fill="none"/>
<path d="M388.2,292.9L395.3,283.5L397.6,292.9" fill="none"/>
<path d="M383.5,298.8L385.9,305.9L402.4,303.5L404.7,298.8" fill="none"/>
<path d="M420.9,286.8L433.8,286.8L437.4,280.9L439.7,290.3" fill="none"/>
<path d="M445.6,275.0L450.3,273.8L458.5,278.5L460.9,283.2L465.6,287.9L472.6,292.6L464.4,299.7L458.5,302.1L451.5,302.1L444.4,298.5L439.7,290.3" fill="none"/>
<path d="M446.8,266.8L446.2,274.4L450.3,273.8" fill="none"/>
<path d="M416.8,256.2L446.8,256.2" fill="none"/>
<path d="M458.5,302.1L457.4,318.5" fill="none"/>
<path d="M384.7,307.1L389.4,306.5L395.3,307.1L395.9,314.1L392.9,317.6L389.4,322.4" fill="none"/>
<path d="M404.7,302.4L402.4,315.3L397.6,323.5L391.8,327.1" fill="none"/>
<path d="M391.8,327.6L400.0,327.6L403.5,331.8L410.6,331.2L414.1,341.2L418.8,341.8L427.1,344.1L430.0,346.5" fill="none"/>
<path d="M428.2,344.1L428.2,334.7L432.9,334.1" fill="none"/>
<path d="M431.8,303.5L432.9,315.3L430.6,320.0L431.8,329.4L432.9,334.1L438.8,337.6" fill="none"/>
<path d="M441.2,315.3L454.1,324.7" fill="none"/>
<path d="M457.6,302.4L457.6,316.5" fill="none"/>
<path d="M440.0,337.6L443.5,342.9L455.3,340.0" fill="none"/>
<path d="M412.9,347.1L414.1,358.8L421.2,358.8L431.8,350.6L440.0,349.4" fill="none"/>
<path d="M438.8,337.6L441.2,340.0L443.5,354.1L440.0,349.4" fill="none"/>
<path d="M389.4,357.6L403.5,358.2L410.6,358.8L420.0,358.8" fill="none"/>
<path d="M410.0,359.4L410.0,370.0" fill="none"/>
<path d="M420.6,358.8L427.1,365.9L431.8,369.4" fill="none"/>
<path d="M430.6,354.1L438.8,355.3L437.6,365.9" fill="none"/>
<path d="M537.6,184.7L540.0,185.3L543.5,187.6L548.2,190.0L551.8,195.3L558.8,198.2L564.7,201.2L576.5,201.8L584.7,203.5L588.3,201.7L593.3,200.0L595.0,195.8L601.7,190.8L607.5,190.8L605.8,189.2L599.2,186.7L597.5,184.2L599.2,175.0L603.3,174.2L610.0,177.5L615.0,180.8L623.3,184.2L635.0,187.5L637.5,194.2L633.3,199.2L629.2,203.3L626.7,205.8L621.7,207.5L615.8,209.2L616.7,212.5L621.7,213.3L625.0,215.8L623.3,221.7L630.8,228.3L633.3,236.7L632.5,243.3L630.6,243.5L621.2,251.8L611.8,257.6L607.1,254.1L597.6,251.8L590.6,247.1L583.5,245.9L578.8,238.8L575.3,235.3L561.2,240.0L541.2,233.5L536.5,230.0L534.1,225.3L531.8,220.6L525.9,215.9L523.5,210.6L521.2,207.6L527.1,203.5L531.8,201.2L530.6,195.9L531.8,192.4L535.3,190.0Z" fill="#662506"/>
<path d="M609.4,261.2L614.1,260.7L613.6,264.7L610.1,264.7Z" fill="#662506"/>
<path d="M522.4,220.7L529.4,223.1L530.6,230.1L541.6,235.3L550.6,240.0L561.2,242.8L569.4,245.9L575.3,236.5L578.8,238.8L578.4,243.5L572.9,250.6L568.2,255.3L561.2,257.6L555.3,263.5L548.2,268.2L545.4,277.6L543.5,291.3L538.8,283.5L532.9,270.6L528.2,258.8L517.6,252.9L521.2,248.2L525.9,242.4L528.2,235.3L524.7,228.2Z" fill="#993404"/>
<path d="M541.2,233.8L549.6,235.9L560.2,240.1L559.2,242.2L549.6,240.1L541.2,236.9Z" fill="url(#hatch)" stroke="#c4c4c4" stroke-width="0.45"/>
<path d="M561.3,239.1L567.6,239.1L566.6,242.2L561.3,242.2Z" fill="#ffffe5"/>
<path d="M546.5,286.7L549.6,287.8L551.8,295.2L548.6,297.3L546.5,292.0Z" fill="#ffffe5"/>
<path d="M513.3,226.7L515.0,220.0L521.7,215.0L526.7,215.8L530.8,221.7L525.0,225.0L523.3,230.0L526.7,233.3L528.2,235.3L525.8,242.3L521.2,248.2L517.7,252.8L508.2,250.7L501.2,248.2L502.3,242.3L498.8,235.3L503.3,235.0L510.0,231.7Z" fill="#fec44f"/>
<path d="M495.8,223.3L500.0,220.0L506.7,216.7L513.3,215.8L518.3,213.3L521.7,215.0L515.0,220.0L513.3,226.7L510.0,231.7L503.3,235.0L498.8,235.3L498.3,234.2L495.8,228.3Z" fill="#ffffe5"/>
<path d="M458.3,210.0L465.0,211.7L470.0,213.3L476.7,214.2L485.0,213.3L491.7,213.3L495.8,216.7L495.8,223.3L495.8,228.3L498.8,235.3L502.3,242.3L501.2,248.2L493.3,246.7L483.3,243.3L475.0,236.7L470.0,230.0L465.0,223.3L461.7,216.7Z" fill="#ec7014"/>
<path d="M451.7,215.8L458.3,212.5L461.7,216.7L465.0,223.3L470.0,230.0L470.8,233.3L465.0,235.0L456.7,230.0L450.0,223.3Z" fill="#fe9929"/>
<path d="M441.7,216.7L451.7,215.8L450.0,223.3L445.0,226.7L441.7,228.3L442.5,221.7Z" fill="url(#hatch)" stroke="#c4c4c4" stroke-width="0.45"/>
<path d="M439.2,223.3L441.7,221.7L441.7,228.3L440.0,233.3Z" fill="#fec44f"/>
<path d="M441.7,228.3L445.0,226.7L450.0,223.3L456.7,230.0L448.3,233.3L443.3,235.0Z" fill="url(#hatch)" stroke="#c4c4c4" stroke-width="0.45"/>
<path d="M440.5,236.3L442.8,231.1L449.2,229.3L455.7,231.1L465.0,236.3L467.9,235.2L470.2,237.5L474.3,241.0L476.1,244.5L477.8,247.4L480.2,252.1L487.8,253.8L487.2,259.7L482.5,263.2L472.0,266.7L461.5,269.0L458.0,266.7L452.8,256.2L447.5,248.0L444.6,242.2L442.2,238.7Z" fill="#ec7014"/>
<path d="M466.2,234.6L468.5,234.9L470.2,237.5L467.9,237.5Z" fill="#fe9929"/>
<path d="M461.5,269.0L472.0,266.7L482.5,263.2L486.0,269.0L479.0,273.7L468.5,277.2L463.2,279.5L461.7,275.4Z" fill="#ffffe5"/>
<path d="M488.3,249.2L493.0,251.5L497.7,255.0L494.2,263.2L486.0,269.0L482.5,263.2L487.2,259.7L487.8,253.8Z" fill="#fee391"/>
<path d="M480.2,252.1L484.8,249.2L488.3,245.1L488.3,249.2L487.8,253.8Z" fill="#ec7014"/>
<path d="M476.7,244.5L478.4,245.1L477.8,248.0Z" fill="#fe9929"/>
<path d="M656.6,307.9L659.8,308.9L658.7,314.2Z" fill="#ec7014"/>
<path d="M555.0,237.8L559.5,239.2L561.8,238.9L570.0,237.0L572.2,236.2L576.8,237.0L579.0,238.9L582.0,239.2L583.5,242.2L583.5,249.0L587.2,252.8L591.0,255.0L594.0,254.2L597.0,252.8L600.0,252.4L603.8,253.5L606.0,256.5L607.5,255.8L612.0,255.0L615.0,256.5L615.0,234.0L555.0,234.0Z" fill="#662506" stroke="none"/>
<path d="M568.5,243.0L570.0,237.0L576.8,236.2L579.0,239.2L576.0,242.2L573.8,244.5L572.2,250.5L571.1,255.0L568.5,250.5L570.0,247.5L567.8,243.8Z" fill="#993404"/>
<path d="M555.0,243.0L561.0,243.8L561.8,247.5L564.0,252.0L567.0,255.0L561.0,258.0L555.0,262.5Z" fill="#993404" stroke="none"/>
<path d="M561.0,243.8L564.8,244.5L568.5,243.8L570.0,247.5L568.5,250.5L571.1,255.0L567.0,255.0L564.0,252.0L561.8,247.5Z" fill="#fe9929"/>
<path d="M561.8,239.6L567.8,239.2L568.5,242.2L562.5,242.6Z" fill="#ffffe5"/>
<path d="M555.0,239.6L559.5,240.0L559.5,243.0L555.0,243.0Z" fill="url(#hatch)" stroke="#c4c4c4" stroke-width="0.45"/>
<path d="M522.0,209.5L529.5,205.0L575.0,205.0L575.0,236.5L567.0,238.8L559.5,240.2L549.0,236.5L540.8,234.2L537.0,230.5L534.8,224.5L529.5,220.8L525.0,217.0L521.2,211.8Z" fill="#662506" stroke="none"/>
<path d="M524.2,223.0L529.5,220.8L534.8,224.5L537.0,230.5L541.5,234.2L549.0,238.0L559.5,241.0L561.0,244.0L564.0,244.0L565.5,250.0L563.2,255.2L558.0,257.5L555.0,262.8L549.0,268.0L546.8,272.5L546.0,283.0L541.5,292.0L537.0,283.0L531.0,271.0L528.8,260.5L525.0,256.8L519.0,254.5L516.8,250.8L522.0,248.5L519.8,245.5L522.8,241.8L527.2,238.0L526.5,232.0L524.2,227.5Z" fill="#993404"/>
<path d="M519.0,216.2L525.0,217.0L529.5,220.8L524.2,223.0L524.2,227.5L526.5,232.0L527.2,238.0L522.8,241.8L519.8,245.5L522.0,248.5L513.0,246.2L502.5,246.2L500.2,241.0L503.2,238.0L501.0,235.8L510.0,235.0L516.0,227.5L517.5,220.0Z" fill="#fec44f"/>
<path d="M496.5,218.5L505.5,214.0L516.0,214.0L519.0,216.2L517.5,220.0L516.0,227.5L510.0,235.0L501.0,235.8L498.0,232.0L496.5,224.5Z" fill="#ffffe5"/>
<path d="M540.8,234.2L549.0,236.5L559.5,240.2L558.8,243.2L549.0,241.0L541.5,238.0Z" fill="url(#hatch)" stroke="#c4c4c4" stroke-width="0.45"/>
<path d="M561.0,240.2L568.5,239.5L568.5,242.5L561.8,243.2Z" fill="#ffffe5"/>
<path d="M561.0,244.8L565.5,245.5L570.0,250.0L568.5,254.5L564.8,254.5L563.2,250.0Z" fill="#fe9929"/>
<path d="M546.0,286.8L549.0,287.5L551.2,293.5L547.5,295.0L546.0,291.2Z" fill="#ffffe5"/>
<path d="M582.5,298.5L587.0,299.5L591.0,304.0L596.0,308.0L601.0,314.0L605.0,318.0L607.5,320.0L607.0,328.0L604.0,327.0L600.0,323.0L595.0,317.0L591.0,310.0L587.0,304.0Z" fill="#ec7014"/>
<path d="M605.5,328.0L609.0,328.5L615.0,330.5L621.0,331.5L625.0,333.0L628.5,334.5L626.0,335.5L619.0,334.0L613.0,332.5L607.0,331.0Z" fill="#ec7014"/>
<path d="M589.0,285.0L591.0,290.0L595.0,295.0L599.0,298.0L601.5,303.0L603.0,309.0L601.0,309.5L597.0,305.0L594.0,298.0L591.0,293.0L589.0,289.0Z" fill="#fe9929"/>
<path d="M614.5,309.0L617.0,308.0L622.0,306.0L627.0,304.0L630.0,301.0L633.0,301.5L635.0,305.0L636.0,309.0L634.0,313.0L631.0,318.0L630.0,323.0L626.0,322.0L618.0,320.0L615.0,315.0Z" fill="#ec7014"/>
<path d="M615.0,309.0L619.0,307.5L623.0,305.0L627.0,302.0L629.5,298.0L632.5,294.5L635.0,297.0L637.5,299.0L634.0,301.0L630.0,301.5L627.0,304.5L622.0,306.5L617.0,310.0Z" fill="#fe9929"/>
<path d="M639.0,310.0L645.0,309.0L651.5,308.5L651.0,311.0L645.0,312.0L643.0,314.0L647.0,315.0L644.0,317.0L645.0,321.0L647.0,326.0L644.0,327.0L641.0,323.0L639.0,327.0L637.5,320.0Z" fill="#ec7014"/>
<path d="M631.5,335.0L636.0,334.5L640.0,334.5L645.0,334.0L645.5,335.5L640.0,336.0L635.0,336.2Z" fill="#ec7014"/>
<path d="M647.0,337.0L651.0,335.0L653.0,334.5L649.0,339.0Z" fill="#ec7014"/>
<path d="M582.5,240.0L583.3,245.0L584.2,249.2L588.3,255.0L591.7,256.7L594.2,254.2L600.0,252.5L605.0,255.8L608.3,256.7L613.3,257.5L616.7,255.0L623.3,253.3L630.0,248.3L630.0,240.0Z" fill="#662506" stroke="none"/>
<path d="M573.3,250.0L575.0,245.0L576.7,242.5L580.0,241.7L582.5,240.0L583.3,245.0L584.2,249.2L588.3,255.0L591.7,256.7L590.0,259.2L585.0,261.7L584.2,265.0L585.8,268.3L587.5,273.3L589.2,278.3L590.8,283.3L590.0,286.7L588.3,280.0L585.8,273.3L583.3,270.8L578.3,271.7L576.7,265.0L573.3,260.0Z" fill="#fff7bc"/>
<path d="M585.0,261.7L590.0,259.2L591.7,261.7L593.3,265.0L598.3,265.8L601.7,267.5L603.3,273.3L599.2,275.8L597.5,279.2L595.0,279.2L593.3,275.8L590.8,276.7L591.7,281.7L590.0,286.7L590.0,290.0L589.2,288.3L590.8,283.3L589.2,278.3L587.5,273.3L585.8,268.3L584.2,265.0Z" fill="#fe9929"/>
<path d="M590.0,256.7L592.5,255.0L594.2,254.2L596.7,256.7L600.0,260.0L600.0,264.2L605.0,269.2L606.7,275.0L603.3,273.3L601.7,267.5L598.3,265.8L593.3,265.0L591.7,261.7L590.0,259.2Z" fill="#fff7bc"/>
<path d="M594.2,254.2L600.0,252.5L605.0,255.8L601.7,259.2L600.8,262.5L606.7,267.5L611.7,271.7L613.3,278.3L611.7,283.3L605.8,289.2L603.3,286.7L607.5,281.7L608.3,276.7L606.7,275.0L605.0,269.2L600.0,264.2L600.0,260.0L596.7,256.7Z" fill="#fe9929"/>
<path d="M598.3,276.7L603.3,275.0L608.3,276.7L607.5,281.7L604.2,284.2L600.0,283.3L597.5,280.0Z" fill="#ffffe5"/>
<path d="M610.0,261.7L613.3,260.8L615.0,262.5L613.3,265.0L610.8,264.6Z" fill="#662506"/>
<path d="M634.6,247.5L636.2,246.7L636.7,250.0L635.8,255.0L633.8,252.5Z" fill="#ec7014"/>
<path d="M637.1,264.6L640.4,265.0L641.7,268.3L640.8,272.5L640.4,275.8L642.5,276.7L645.8,276.7L647.5,279.2L645.0,280.0L642.5,278.3L639.6,278.3L638.3,274.2L636.7,270.0Z" fill="#fec44f"/>
<path d="M638.8,277.9L640.8,278.3L640.8,280.0L639.6,280.4Z" fill="#fec44f"/>
<path d="M642.5,282.5L646.7,281.7L650.0,280.8L651.7,284.2L648.3,285.0L646.7,287.5L644.2,286.7Z" fill="#fec44f"/>
<path d="M644.2,292.5L647.5,290.4L651.7,288.3L653.3,290.8L653.3,295.0L644.2,295.0Z" fill="#fec44f"/>
<path d="M632.5,290.0L635.8,285.0L637.5,284.2L636.7,285.8L633.3,290.4Z" fill="#fec44f"/>
<path d="M582.5,240.0L583.3,245.0L584.2,249.2L588.3,255.0L591.7,256.7L594.2,254.2L600.0,252.5L605.0,255.8L608.3,256.7L613.3,257.5L616.7,255.0L623.3,253.3L630.0,248.3" fill="none"/>
<path d="M521.2,211.8L525.0,217.0L529.5,220.8L534.8,224.5L537.0,230.5L540.8,234.2L549.0,236.5L559.5,240.2L567.0,238.8" fill="none"/>
<path d="M555.0,237.8L559.5,239.2L561.8,238.9L570.0,237.0L572.2,236.2L576.8,237.0L579.0,238.9L582.0,239.2L583.5,242.2L583.5,249.0L587.2,252.8L591.0,255.0L594.0,254.2L597.0,252.8L600.0,252.4L603.8,253.5L606.0,256.5L607.5,255.8L612.0,255.0L615.0,256.5" fill="none"/>
<path d="M614.7,400.6L617.1,387.6L619.4,372.4L627.6,367.6L637.1,362.9L644.1,355.9L653.5,350.0L659.4,351.2L666.5,342.9L672.4,344.1L675.9,345.3L673.5,352.4L679.4,357.1L684.1,359.4L686.5,352.4L690.0,341.8L693.5,351.2L694.7,359.4L699.4,366.5L702.9,371.2L705.3,379.4L705.3,387.6L700.6,398.2L693.5,404.1L686.5,411.2L677.1,413.5L670.0,412.4L665.3,408.8L661.8,399.4L658.2,400.6L653.5,397.1L644.1,398.2L637.1,399.4L627.6,400.6L620.6,404.1Z" fill="#fe9929"/>
<path d="M667.6,419.4L677.1,419.4L673.5,425.3L668.8,426.5Z" fill="#fe9929"/>
<path d="M687.6,320.6L698.2,324.1L700.6,330.0L702.9,333.5L708.8,339.4L701.8,338.7L694.7,334.7L687.6,334.7Z" fill="#ffffe5"/>
<path d="M665.3,314.7L672.4,315.9L679.4,318.2L687.6,320.6L687.6,334.7L681.8,333.5L677.1,326.5L670.0,322.9L666.5,320.6Z" fill="#ec7014"/>
<path d="M631.2,334.7L644.1,333.5L653.5,334.7L647.6,338.2L637.1,337.1Z" fill="#ec7014"/>
<path d="M705.3,327.6L714.7,320.6L715.9,324.1L710.0,328.8Z" fill="#ffffe5"/>
<path d="M719.4,326.5L728.8,332.4L734.7,339.4L731.2,340.6L721.8,331.2Z" fill="#ffffe5"/>
<path d="M742.9,351.2L745.3,352.4L745.3,355.9L743.4,355.2Z" fill="#ffffe5"/>
<path d="M734.7,366.5L737.1,367.6L739.4,371.2L737.1,370.7Z" fill="#ffffe5"/>
<path d="M766.5,358.2L773.5,355.9L772.4,358.9L767.6,359.9Z" fill="#ffffe5"/>
<path d="M738.2,402.9L741.8,408.8L746.5,411.2L740.6,418.2L733.5,420.6L731.2,419.4L737.1,413.5L740.6,408.8Z" fill="#ffffe5"/>
<path d="M731.2,419.4L733.5,421.8L724.1,427.6L712.4,433.5L705.3,432.4L717.1,425.3Z" fill="#ffffe5"/>
<path d="M460.0,195.3L464.1,191.8L469.4,190.8L471.2,192.9L468.8,194.1L468.8,200.0L473.5,202.9L477.1,203.5L477.6,207.1L477.1,211.8L478.2,216.5L472.4,216.5L468.8,211.8L466.5,207.1L464.1,204.7L461.8,201.2Z" fill="#fff" stroke="#fff" stroke-width="0.3"/>
</g>
<rect x="104" y="537" width="71" height="11" fill="#ffffe5" stroke="#a0a0a0" stroke-width="0.5"/>
<rect x="175" y="537" width="71" height="11" fill="#fff7bc" stroke="#a0a0a0" stroke-width="0.5"/>
<rect x="246" y="537" width="71" height="11" fill="#fee391" stroke="#a0a0a0" stroke-width="0.5"/>
<rect x="317" y="537" width="71" height="11" fill="#fec44f" stroke="#a0a0a0" stroke-width="0.5"/>
<rect x="388" y="537" width="71" height="11" fill="#fe9929" stroke="#a0a0a0" stroke-width="0.5"/>
<rect x="459" y="537" width="71" height="11" fill="#ec7014" stroke="#a0a0a0" stroke-width="0.5"/>
<rect x="530" y="537" width="71" height="11" fill="#cc4c02" stroke="#a0a0a0" stroke-width="0.5"/>
<rect x="601" y="537" width="71" height="11" fill="#993404" stroke="#a0a0a0" stroke-width="0.5"/>
<rect x="672" y="537" width="71" height="11" fill="#802d05" stroke="#a0a0a0" stroke-width="0.5"/>
<path d="M743,537H805L813,542.5L805,548H743Z" fill="#662506" stroke="#a0a0a0" stroke-width="0.5"/>
<line x1="104" y1="518" x2="104" y2="537" stroke="#b0b0b0" stroke-width="0.8"/>
<text x="104" y="515.5" text-anchor="middle">0 TWh</text>
<line x1="246" y1="518" x2="246" y2="537" stroke="#b0b0b0" stroke-width="0.8"/>
<text x="246" y="515.5" text-anchor="middle">20 TWh</text>
<line x1="388" y1="518" x2="388" y2="537" stroke="#b0b0b0" stroke-width="0.8"/>
<text x="388" y="515.5" text-anchor="middle">100 TWh</text>
<line x1="530" y1="518" x2="530" y2="537" stroke="#b0b0b0" stroke-width="0.8"/>
<text x="530" y="515.5" text-anchor="middle">500 TWh</text>
<line x1="672" y1="518" x2="672" y2="537" stroke="#b0b0b0" stroke-width="0.8"/>
<text x="672" y="515.5" text-anchor="middle">2,000 TWh</text>
<line x1="175" y1="533" x2="175" y2="537" stroke="#b0b0b0" stroke-width="0.8"/>
<text x="175" y="530.3" text-anchor="middle">10 TWh</text>
<line x1="317" y1="533" x2="317" y2="537" stroke="#b0b0b0" stroke-width="0.8"/>
<text x="317" y="530.3" text-anchor="middle">50 TWh</text>
<line x1="459" y1="533" x2="459" y2="537" stroke="#b0b0b0" stroke-width="0.8"/>
<text x="459" y="530.3" text-anchor="middle">200 TWh</text>
<line x1="601" y1="533" x2="601" y2="537" stroke="#b0b0b0" stroke-width="0.8"/>
<text x="601" y="530.3" text-anchor="middle">1,000 TWh</text>
<line x1="743" y1="533" x2="743" y2="537" stroke="#b0b0b0" stroke-width="0.8"/>
<text x="743" y="530.3" text-anchor="middle">5,000 TWh</text>
<rect x="36" y="537" width="48" height="11" fill="url(#hatch)" stroke="#b0b0b0" stroke-width="0.5"/>
<line x1="60" y1="533" x2="60" y2="537" stroke="#b0b0b0" stroke-width="0.8"/>
<text x="60" y="530.3" text-anchor="middle">No data</text>
</svg>
<div class="f"><b>Data source:</b> Ember (2026); Energy Institute - Statistical Review of World Energy (2025)</div>
<div class="fr">OurWorldinData.org/energy | CC BY</div>
</body></html>
